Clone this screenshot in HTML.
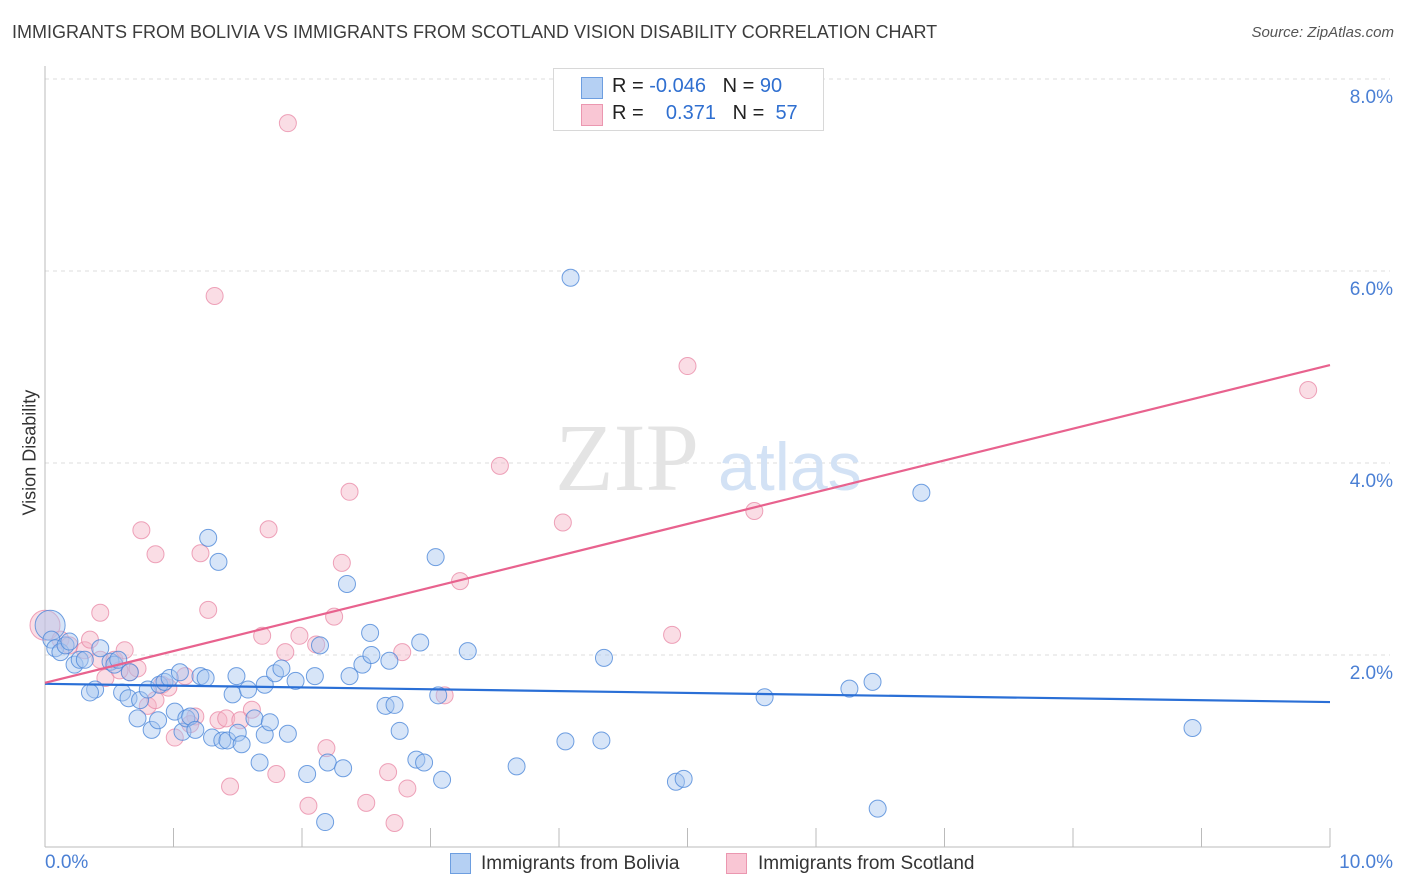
<!DOCTYPE html>
<html><head><meta charset="utf-8"><style>
body{margin:0;background:#fff;font-family:"Liberation Sans",sans-serif;}
#wrap{position:relative;width:1406px;height:892px;overflow:hidden;}
.t{position:absolute;white-space:nowrap;}
</style></head><body>
<div id="wrap">
<div class="t" style="left:12px;top:22px;font-size:18px;color:#3c3c3c;">IMMIGRANTS FROM BOLIVIA VS IMMIGRANTS FROM SCOTLAND VISION DISABILITY CORRELATION CHART</div>
<div class="t" style="right:12px;top:24px;font-size:15px;color:#555;font-style:italic;">Source: ZipAtlas.com</div>
<svg id="svg" width="1406" height="892" style="position:absolute;left:0;top:0;"></svg>
<div class="t" style="left:553px;top:68px;width:269px;height:61px;border:1px solid #d8d8d8;background:#fff;">
 <div style="position:absolute;left:27px;top:8px;width:20px;height:20px;background:#b5d0f3;border:1px solid #6d9ee0;"></div>
 <div style="position:absolute;left:27px;top:35px;width:20px;height:20px;background:#f9c6d4;border:1px solid #eb97b0;"></div>
 <div class="t" style="left:58px;top:6px;font-size:20px;color:#222;">R = <span style="color:#2f6fd0">-0.046</span>&nbsp;&nbsp;&nbsp;N = <span style="color:#2f6fd0">90</span></div>
 <div class="t" style="left:58px;top:33px;font-size:20px;color:#222;">R = &nbsp;&nbsp;&nbsp;<span style="color:#2f6fd0">0.371</span>&nbsp;&nbsp;&nbsp;N = &nbsp;<span style="color:#2f6fd0">57</span></div>
</div>
<div class="t" style="left:-30px;top:445px;font-size:18px;color:#333;transform:rotate(-90deg);width:120px;text-align:center;">Vision Disability</div>
<div class="t" style="left:45px;top:852px;font-size:19px;color:#4a7fd4;">0.0%</div>
<div class="t" style="right:13px;top:852px;font-size:19px;color:#4a7fd4;">10.0%</div>
<div style="position:absolute;left:450px;top:853px;width:19px;height:19px;background:#b5d0f3;border:1px solid #6d9ee0;"></div>
<div class="t" style="left:481px;top:853px;font-size:19px;color:#333;">Immigrants from Bolivia</div>
<div style="position:absolute;left:726px;top:853px;width:19px;height:19px;background:#f9c6d4;border:1px solid #eb97b0;"></div>
<div class="t" style="left:758px;top:853px;font-size:19px;color:#333;">Immigrants from Scotland</div>
</div>
<script>
const yTicks=[2,4,6,8];
const yTickLabels=["2.0%","4.0%","6.0%","8.0%"];
const blueX=[0.04,0.05,0.08,0.12,0.16,0.19,0.23,0.27,0.31,0.39,0.35,0.43,0.51,0.54,0.57,0.60,0.65,0.66,0.72,0.74,0.80,0.83,0.88,0.89,0.93,0.97,1.01,1.05,1.07,1.10,1.13,1.17,1.21,1.25,1.27,1.30,1.35,1.38,1.42,1.46,1.49,1.50,1.53,1.58,1.63,1.67,1.71,1.71,1.75,1.79,1.84,1.89,1.95,2.04,2.10,2.14,2.18,2.20,2.32,2.35,2.37,2.47,2.53,2.54,2.65,2.68,2.72,2.76,2.89,2.92,2.95,3.04,3.06,3.09,3.29,3.67,4.05,4.09,4.33,4.35,4.91,4.97,5.60,6.26,6.44,6.48,6.82,8.93];
const blueY=[2.31,2.16,2.07,2.03,2.10,2.14,1.90,1.95,1.95,1.64,1.61,2.07,1.93,1.90,1.95,1.61,1.55,1.82,1.34,1.53,1.64,1.22,1.32,1.69,1.72,1.76,1.41,1.82,1.20,1.34,1.36,1.22,1.78,1.76,3.22,1.14,2.97,1.11,1.11,1.59,1.78,1.19,1.07,1.64,1.34,0.88,1.17,1.69,1.30,1.81,1.86,1.18,1.73,0.76,1.78,2.10,0.26,0.88,0.82,2.74,1.78,1.90,2.23,2.00,1.47,1.94,1.48,1.21,0.91,2.13,0.88,3.02,1.58,0.70,2.04,0.84,1.10,5.93,1.11,1.97,0.68,0.71,1.56,1.65,1.72,0.40,3.69,1.24];
const pinkX=[0.00,0.12,0.19,0.31,0.35,0.43,0.47,0.54,0.62,0.66,0.72,0.75,0.80,0.86,0.91,0.96,1.01,1.09,1.17,1.21,1.27,1.32,1.35,1.41,1.44,1.52,1.61,1.69,1.74,1.80,1.87,1.89,1.98,2.05,2.11,2.19,2.25,2.31,2.37,2.50,2.67,2.72,2.78,2.82,3.11,3.23,3.54,4.03,4.88,5.00,5.52,9.83,0.43,1.13,0.58,0.86];
const pinkY=[2.31,2.16,2.10,2.05,2.16,1.95,1.76,1.95,2.05,1.82,1.86,3.30,1.47,3.05,1.69,1.66,1.14,1.78,1.36,3.06,2.47,5.74,1.32,1.34,0.63,1.32,1.43,2.20,3.31,0.76,2.03,7.54,2.20,0.43,2.11,1.03,2.40,2.96,3.70,0.46,0.78,0.25,2.03,0.61,1.58,2.77,3.97,3.38,2.21,5.01,3.50,4.76,2.44,1.28,1.84,1.53];
const blueLine=[1.70,1.51]; // trend value at x=0 and x=10
const pinkLine=[1.71,5.02];
const NS="http://www.w3.org/2000/svg";
const svg=document.getElementById('svg');
const xs=v=>45+v*128.5, ys=v=>847-v*96;
function mk(t,a){const e=document.createElementNS(NS,t);for(const k in a)e.setAttribute(k,a[k]);svg.appendChild(e);return e;}
yTicks.forEach((t,i)=>{
 const g=mk('line',{x1:45,x2:1390,y1:ys(t),y2:ys(t),stroke:'#dcdcdc','stroke-dasharray':'4,4'});
 
 
 const tx=mk('text',{x:1393,y:ys(t)+24,'text-anchor':'end','font-size':19,fill:'#4a7fd4','font-family':'Liberation Sans, sans-serif'});
 tx.textContent=yTickLabels[i];
 
 
});
const ax=mk('line',{x1:45,x2:45,y1:66,y2:847,stroke:'#bbb'});


const bx=mk('line',{x1:45,x2:1330,y1:847,y2:847,stroke:'#bbb'});


for(let k=1;k<=10;k++){const tk=mk('line',{x1:xs(k),x2:xs(k),y1:828,y2:847,stroke:'#bbb'});
 
 }
const wm=mk('text',{x:555,y:490,'font-size':96,fill:'#e4e4e4','font-family':'Liberation Serif, serif'});wm.textContent='ZIP';


const wm2=mk('text',{x:718,y:490,'font-size':68,fill:'#d3e2f5','font-family':'Liberation Sans, sans-serif'});wm2.textContent='atlas';


function pts(X,Y,fill,stroke,name){X.forEach((x,i)=>{const c=mk('circle',{cx:xs(x),cy:ys(Y[i]),r:i===0?15:8.5,fill:fill,'fill-opacity':0.45,stroke:stroke,'stroke-opacity':0.8,'stroke-width':1});
 
 });}
pts(pinkX,pinkY,'#f5b3c6','#ea8ca9','scotland-point');
pts(blueX,blueY,'#a7c6ef','#4d88da','bolivia-point');
const bl=mk('line',{x1:xs(0),y1:ys(blueLine[0]),x2:xs(10),y2:ys(blueLine[1]),stroke:'#2a6fd6','stroke-width':2.2});


const pl=mk('line',{x1:xs(0),y1:ys(pinkLine[0]),x2:xs(10),y2:ys(pinkLine[1]),stroke:'#e8628e','stroke-width':2.2});


</script>
</body></html>
